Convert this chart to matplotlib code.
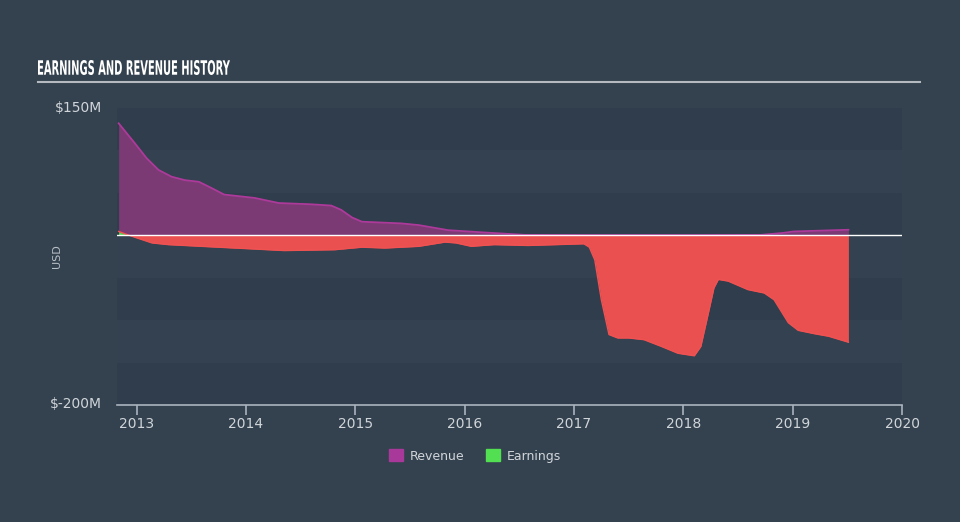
import matplotlib
matplotlib.use("Agg")
import matplotlib.pyplot as plt
from matplotlib.patches import Patch, PathPatch
from matplotlib.textpath import TextPath
from matplotlib.font_manager import FontProperties
from matplotlib.transforms import Affine2D, IdentityTransform

# revenue history ($M), x in fractional years
rev_x = [2012.835, 2012.98, 2013.09, 2013.20, 2013.32, 2013.44, 2013.57, 2013.68,
         2013.80, 2014.08, 2014.30, 2014.60, 2014.78, 2014.87, 2014.97, 2015.06,
         2015.42, 2015.58, 2015.85, 2016.18, 2016.55, 2017.07, 2018.16, 2018.71,
         2018.90, 2019.01, 2019.51]
rev_y = [132, 109, 91, 77, 69, 65, 63, 56,
         48, 44, 38, 36.5, 35, 30, 21, 16,
         14, 12, 6, 3.3, 0.5, 0.3, 0.3, 0.5,
         2.6, 4.5, 6.5]

# earnings history ($M)
earn_x = [2012.835, 2012.93, 2013.14, 2013.29, 2013.59, 2014.05, 2014.35, 2014.81,
          2015.06, 2015.27, 2015.58, 2015.82, 2015.92, 2016.06, 2016.27, 2016.58,
          2017.09, 2017.14, 2017.19, 2017.25, 2017.32, 2017.40, 2017.50, 2017.64,
          2017.80, 2017.95, 2018.10, 2018.16, 2018.23, 2018.28, 2018.32, 2018.41,
          2018.59, 2018.74, 2018.83, 2018.96, 2019.05, 2019.20, 2019.33, 2019.51]
earn_y = [4.5, 0, -9, -11, -13, -16, -18, -17,
          -14, -15, -13, -8, -9, -13, -11, -12,
          -10, -14, -29, -76, -117, -121, -121, -123,
          -131, -139, -142, -131, -91, -62, -52, -54,
          -64, -68, -76, -103, -112, -116, -119, -126]

years = [2013, 2014, 2015, 2016, 2017, 2018, 2019, 2020]

BG = "#34424f"
BAND_DARK = "#2f3d4c"
BAND_LIGHT = "#334150"
TXT = "#d0d5da"
W, H = 960, 522

fig = plt.figure(figsize=(9.6, 5.22), dpi=100, facecolor=BG)
ax = fig.add_axes([117/W, 1 - 405/H, 785/W, 297/H])
ax.set_facecolor(BG)

# alternating horizontal bands
for i, lo in enumerate(range(-200, 150, 50)):
    ax.axhspan(lo, lo + 50, color=BAND_DARK if i % 2 == 0 else BAND_LIGHT,
               lw=0, zorder=0)

ax.fill_between(rev_x, rev_y, 0, color="#7b3a74", lw=0, zorder=2)
ax.plot(rev_x, rev_y, color="#ad3a9b", lw=1.3, zorder=3)

ax.fill_between(earn_x, earn_y, 0, where=[v <= 0 for v in earn_y],
                interpolate=True, color="#ea5050", lw=0, zorder=4)
ax.fill_between(earn_x, earn_y, 0, where=[v >= 0 for v in earn_y],
                interpolate=True, color="#4fd84f", lw=0, zorder=4)
ax.plot(earn_x, earn_y, color="#f05252", lw=1.0, zorder=4)

ax.axhline(0, color="white", lw=1.0, zorder=5)

ax.set_xlim(2012.82, 2020.0)
ax.set_ylim(-200, 150)
ax.set_xticks(years)
ax.set_xticklabels([str(y) for y in years])
ax.set_yticks([])
for s in ["top", "right", "left"]:
    ax.spines[s].set_visible(False)
ax.spines["bottom"].set_color("#aab4bf")
ax.spines["bottom"].set_linewidth(1.2)
ax.tick_params(axis="x", colors="#aab4bf", length=7, width=1.2,
               labelcolor=TXT, labelsize=10, pad=2)

fig.text(102/W, 1 - 108/H, "$150M", color=TXT, fontsize=10,
         ha="right", va="center")
fig.text(102/W, 1 - 404/H, "$-200M", color=TXT, fontsize=10,
         ha="right", va="center")
fig.text(57/W, 1 - 256/H, "USD", color="#b8bfc6", fontsize=8,
         rotation=90, ha="center", va="center")

# condensed title: squeeze a bold text path into the reference box
tp = TextPath((0, 0), "EARNINGS AND REVENUE HISTORY", size=20,
              prop=FontProperties(family="DejaVu Sans", weight="bold"))
ext = tp.get_extents()
sx = 192 / ext.width
sy = 15 / ext.height
tr = (Affine2D().translate(-ext.x0, -ext.y0).scale(sx, sy)
      .translate(38, H - 75))
fig.add_artist(PathPatch(tr.transform_path(tp), facecolor="white", lw=0,
                         transform=IdentityTransform()))
fig.add_artist(plt.Line2D([38/W, 920/W], [1 - 82/H, 1 - 82/H],
                          color="#b5bac0", lw=1.5))

handles = [Patch(color="#a8399a", label="Revenue"),
           Patch(color="#52e052", label="Earnings")]
fig.legend(handles=handles, loc="center", bbox_to_anchor=(475/W, 1 - 456/H),
           ncol=2, frameon=False, fontsize=9, labelcolor=TXT,
           handlelength=1.1, handleheight=1.1, columnspacing=1.8, handletextpad=0.5)

fig.savefig("out.png", dpi=100, facecolor=BG)
